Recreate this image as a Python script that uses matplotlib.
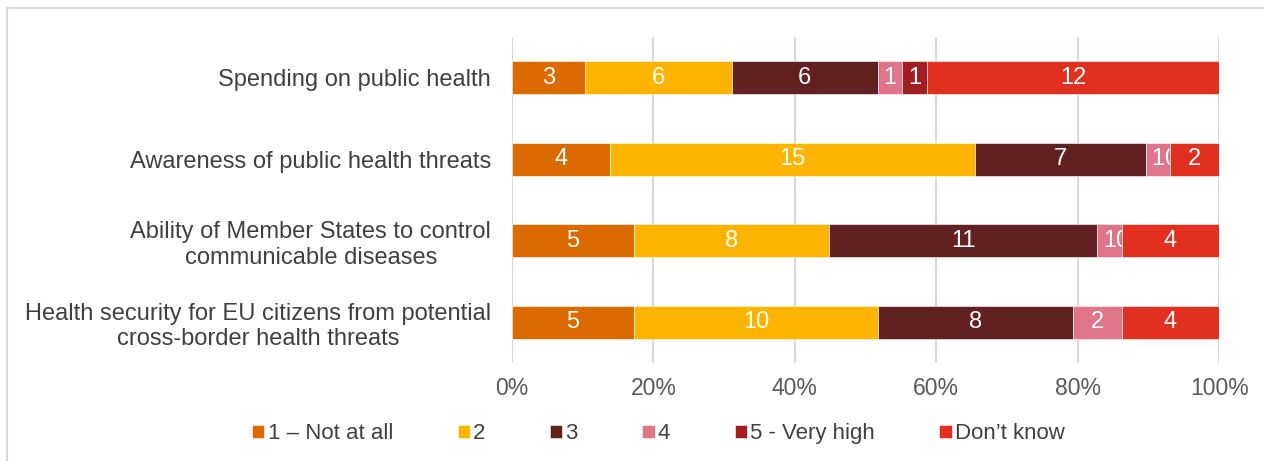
import numpy as np
import matplotlib.pyplot as plt
from matplotlib.patches import Rectangle

plt.rcParams['font.family'] = ['Liberation Sans', 'DejaVu Sans']

categories = ['Spending on public health',
              'Awareness of public health threats',
              'Ability of Member States to control\ncommunicable diseases',
              'Health security for EU citizens from potential\ncross-border health threats']
series_names = ['1 \u2013 Not at all', '2', '3', '4', '5 - Very high', 'Don\u2019t know']
not_at_all = [3, 4, 5, 5]
two = [6, 15, 8, 10]
three = [6, 7, 11, 8]
four = [1, 1, 1, 2]
very_high = [1, 0, 0, np.nan]   # no label shown in last row
dont_know = [12, 2, 4, 4]
colors = ['#DB6A00', '#FDB400', '#612120', '#E07589', '#A21D22', '#E1301F']
xticks = [0, 0.2, 0.4, 0.6, 0.8, 1.0]
xticklabels = ['0%', '20%', '40%', '60%', '80%', '100%']

data = np.array([not_at_all, two, three, four, very_high, dont_know], dtype=float)
counts = np.nan_to_num(data)
totals = counts.sum(axis=0)
shares = counts / totals

fig = plt.figure(figsize=(12.64, 4.61), dpi=100)
ax = fig.add_axes([0.4051, 0.2126, 0.5595, 0.7072])

# light frame around the chart area
fig.patches.append(Rectangle((7 / 1264, -0.1), 1.2, 1 - 8 / 461 + 0.1, transform=fig.transFigure,
                             fill=False, edgecolor='#D9D9D9', linewidth=1.5, zorder=0))

y = np.arange(len(categories))
left = np.zeros(len(categories))
for i in range(len(series_names)):
    bars = ax.barh(y, shares[i], left=left, height=0.40, color=colors[i],
                   edgecolor='white', linewidth=0.4, label=series_names[i], zorder=3)
    labels = ['' if np.isnan(v) else '%d' % v for v in data[i]]
    ax.bar_label(bars, labels=labels, label_type='center', color='white', fontsize=17)
    left += shares[i]

ax.set_ylim(len(categories) - 0.5, -0.5)
ax.set_xlim(0, 1)
ax.set_yticks(y)
ax.set_yticklabels(categories, fontsize=17, color='#404040', multialignment='center')
ax.set_xticks(xticks)
ax.set_xticklabels(xticklabels, fontsize=16.5, color='#595959')
ax.tick_params(axis='y', length=0, pad=15)
ax.tick_params(axis='x', length=0, pad=10)
ax.grid(axis='x', color='#D9D9D9', linewidth=1.5, zorder=0)
for s in ax.spines.values():
    s.set_visible(False)

fig.legend(loc='center', bbox_to_anchor=(0.521, 0.0586), ncol=6, frameon=False,
           fontsize=16, handlelength=0.55, handleheight=0.55, handletextpad=0.15,
           columnspacing=2.9, labelcolor='#404040')

fig.savefig('out.png', dpi=100)
